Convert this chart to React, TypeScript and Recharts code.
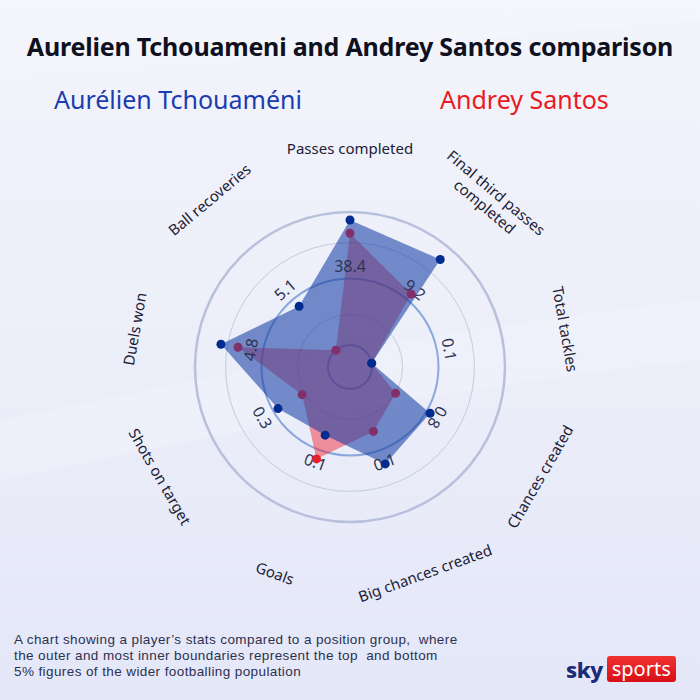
import React from 'react';
import {
  RadarChart,
  Radar,
  PolarGrid,
  PolarAngleAxis,
  PolarRadiusAxis,
} from 'recharts';

const categories = [
  'Passes completed',
  'Final third passes\ncompleted',
  'Total tackles',
  'Chances created',
  'Big chances created',
  'Goals',
  'Shots on target',
  'Duels won',
  'Ball recoveries',
];
const tchouameni = [94, 89, 0, 53, 61, 38, 46, 82, 43];
const santos = [84, 55, 0, 23, 35, 57, 25, 69, 0];
const medianLabels = ['38.4', '9.2', '0.1', '0.8', '0.1', '0.1', '0.3', '4.8', '5.1'];
const gridLevels = [0, 23, 50, 77, 100];
const footnote = [
  'A chart showing a player’s stats compared to a position group,\u00a0 where',
  'the outer and most inner boundaries represent the top\u00a0 and bottom',
  '5% figures of the wider footballing population',
];

const data = categories.map((name, i) => ({
  name,
  tchouameni: tchouameni[i],
  santos: santos[i],
}));

const CX = 350;
const CY = 367;
const INNER = 22;
const OUTER = 155;
const VALUE_R = 101;
const LABEL_R = 219;

const toRadius = (v: number) => INNER + ((OUTER - INNER) * v) / 100;
const radii = gridLevels.map(toRadius);

const font = '"Noto Sans", "Open Sans", sans-serif';

function AngleTick(props: any) {
  const { x, y, payload } = props;
  const idx = payload.index ?? props.index;
  const cw = (((90 - payload.coordinate) % 360) + 360) % 360;
  const rotName = cw > 90 && cw < 270 ? cw - 180 : cw;
  const rotVal = cw > 135 && cw < 270 ? cw - 180 : cw;
  const lines = String(payload.value).split('\n');
  const rad = (-payload.coordinate * Math.PI) / 180;
  const vx = CX + VALUE_R * Math.cos(rad);
  const vy = CY + VALUE_R * Math.sin(rad);
  return (
    <g>
      <text
        x={x}
        y={y}
        transform={`rotate(${rotName} ${x} ${y})`}
        textAnchor="middle"
        dominantBaseline="central"
        fill="#1d2035"
        fontSize={15}
        fontFamily={font}
      >
        {lines.map((l, i) => (
          <tspan key={i} x={x} dy={i === 0 ? -(lines.length - 1) * 9 : 18}>
            {l}
          </tspan>
        ))}
      </text>
      <text
        x={vx}
        y={vy}
        transform={`rotate(${rotVal} ${vx} ${vy})`}
        textAnchor="middle"
        dominantBaseline="central"
        fill="#2e3352"
        fontSize={16}
        fontFamily={font}
      >
        {medianLabels[idx]}
      </text>
    </g>
  );
}

// red dots sitting inside the blue shape look purple in the original
function SantosDot(props: any) {
  const { cx, cy, index } = props;
  const covered = santos[index] <= tchouameni[index];
  return <circle key={`sd-${index}`} cx={cx} cy={cy} r={4.5} fill={covered ? '#82306a' : '#e8202c'} />;
}

export default function App() {
  return (
    <div
      style={{
        position: 'absolute',
        left: 0,
        top: 0,
        width: 700,
        height: 700,
        overflow: 'hidden',
        background: 'linear-gradient(180deg, #f3f4fb 0%, #eceef9 50%, #e4e7f8 100%)',
        fontFamily: font,
      }}
    >
      <svg width={700} height={700} style={{ position: 'absolute', left: 0, top: 0 }}>
        <path d="M0 420 C 200 380, 420 330, 700 300 L 700 360 C 420 390, 200 440, 0 480 Z" fill="#ffffff" opacity={0.18} />
        <path d="M0 80 C 250 60, 450 40, 700 20 L 700 0 L 0 0 Z" fill="#ffffff" opacity={0.2} />
      </svg>
      <div
        style={{
          position: 'absolute',
          top: 29,
          width: 700,
          textAlign: 'center',
          fontSize: 25,
          fontWeight: 700,
          letterSpacing: -0.2,
          color: '#0f1020',
        }}
      >
        Aurelien Tchouameni and Andrey Santos comparison
      </div>
      <div style={{ position: 'absolute', top: 82, left: 54, fontSize: 25, color: '#1a3cb0' }}>
        Aurélien Tchouaméni
      </div>
      <div style={{ position: 'absolute', top: 82, left: 440, fontSize: 25, color: '#ea1a22' }}>
        Andrey Santos
      </div>
      <div style={{ position: 'absolute', left: 0, top: 0 }}>
        <RadarChart
          width={700}
          height={700}
          data={data}
          cx={CX}
          cy={CY}
          innerRadius={INNER}
          outerRadius={OUTER}
          startAngle={90}
          endAngle={-270}
        >
          <PolarGrid gridType="circle" radialLines={false} polarRadius={[radii[1], radii[3]]} stroke="#c9cee3" strokeWidth={1} />
          <PolarGrid gridType="circle" radialLines={false} polarRadius={[radii[4]]} stroke="#b8c0dc" strokeWidth={2.5} />
          <PolarRadiusAxis domain={[0, 100]} tick={false} axisLine={false} />
          <Radar
            dataKey="santos"
            stroke="none"
            fill="#f51a28"
            fillOpacity={0.45}
            dot={(p: any) => <SantosDot {...p} />}
            isAnimationActive={false}
          />
          <Radar
            dataKey="tchouameni"
            stroke="none"
            fill="#1840a6"
            fillOpacity={0.58}
            dot={{ r: 4.5, fill: '#002c8f', stroke: 'none', fillOpacity: 1 }}
            isAnimationActive={false}
          />
          <PolarGrid gridType="circle" radialLines={false} polarRadius={[radii[1], radii[3]]} stroke="#c9cee3" strokeWidth={1} strokeOpacity={0.35} />
          <PolarGrid gridType="circle" radialLines={false} polarRadius={[radii[0], radii[2]]} stroke="#6a8fd2" strokeWidth={2} strokeOpacity={0.75} />
          <PolarAngleAxis
            dataKey="name"
            axisLine={false}
            tickLine={false}
            tickSize={LABEL_R - OUTER}
            tick={(p: any) => <AngleTick {...p} />}
          />
        </RadarChart>
      </div>
      {footnote.map((line, i) => (
        <div
          key={i}
          style={{
            position: 'absolute',
            left: 14,
            top: 632 + i * 16,
            height: 16,
            fontFamily: '"Liberation Sans", Arial, sans-serif',
            fontSize: 13.5,
            letterSpacing: 0.4,
            lineHeight: '16px',
            color: '#2c3150',
            whiteSpace: 'nowrap',
          }}
        >
          {line}
        </div>
      ))}
      <div style={{ position: 'absolute', left: 566, top: 654, display: 'flex', alignItems: 'center' }}>
        <span style={{ fontSize: 22, fontWeight: 800, color: '#1b2c78', letterSpacing: -0.5, marginRight: 4 }}>sky</span>
        <span
          style={{
            background: 'linear-gradient(180deg, #f0322f 0%, #d80f17 100%)',
            color: '#ffffff',
            fontSize: 20,
            padding: '0 5px',
            lineHeight: '26px',
            borderRadius: 3,
          }}
        >
          sports
        </span>
      </div>
    </div>
  );
}
